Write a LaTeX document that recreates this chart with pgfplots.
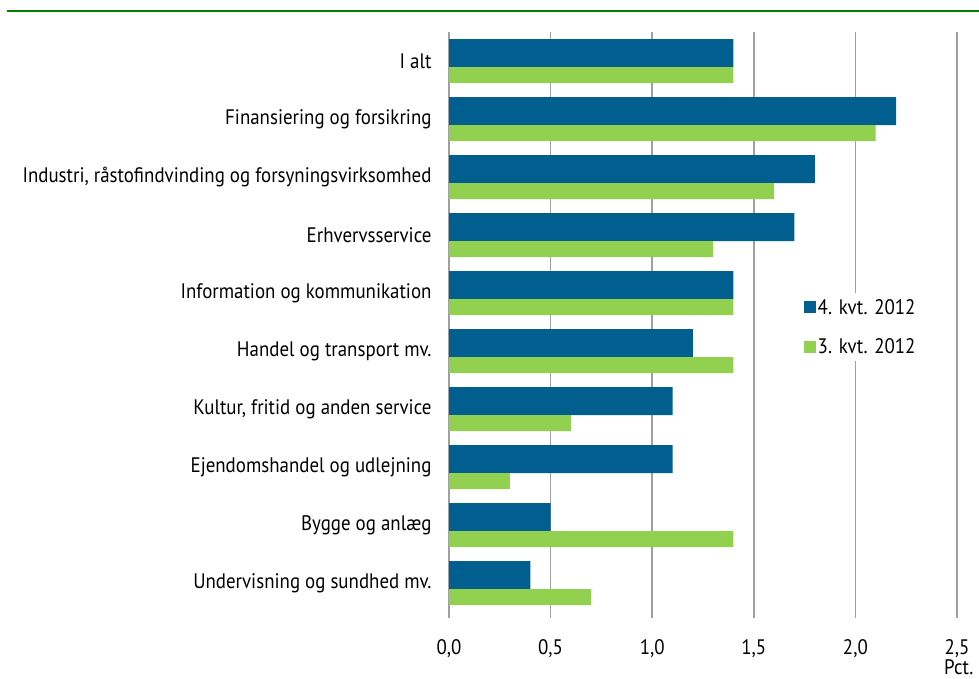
\documentclass[border=0pt]{standalone}
\usepackage{pgfplots}
\pgfplotsset{compat=1.18}
\usepackage{fontspec}
\setmainfont{PT Sans}[FakeStretch=0.9]
\definecolor{cblue}{RGB}{0,95,143}
\definecolor{cgreen}{RGB}{146,208,80}
\definecolor{cgrid}{RGB}{160,160,160}
\definecolor{crule}{RGB}{0,128,0}
\newcommand{\lblfont}{\fontsize{21bp}{24bp}\selectfont}
\begin{document}
\begin{tikzpicture}
\path[use as bounding box] (0bp,0bp) rectangle (979bp,-679bp);
\draw[crule, line width=2bp] (7bp,-11bp) -- (979bp,-11bp);
\begin{axis}[
  at={(449bp,-32bp)}, anchor=north west,
  scale only axis, width=508bp, height=580bp,
  xmin=0, xmax=2.5, ymin=-0.5, ymax=9.5,
  xbar, clip=false,
  axis line style={draw=none},
  xtick={0,0.5,1,1.5,2,2.5},
  xtick pos=bottom, ytick pos=left,
  tick align=outside,
  major tick length=6bp,
  xmajorgrids,
  major grid style={cgrid, line width=1.5bp},
  major tick style={cgrid, line width=1.5bp},
  ytick style={draw=none},
  ytick={0,...,9},
  yticklabels={Undervisning og sundhed mv.,Bygge og anlæg,Ejendomshandel og udlejning,{Kultur, fritid og anden service},Handel og transport mv.,Information og kommunikation,Erhvervsservice,{Industri, råstofindvinding og forsyningsvirksomhed},Finansiering og forsikring,I alt},
  yticklabel style={font=\lblfont, xshift=-8bp},
  xticklabel style={font=\lblfont, yshift=-18bp, /pgf/number format/.cd, fixed, fixed zerofill, precision=1, use comma, assume math mode=true},
  legend style={at={(0.69,0.55)}, anchor=north west, draw=none, fill=white, font=\lblfont, row sep=19bp, inner sep=4bp, legend cell align=left},
  legend image code/.code={\fill[#1] (0bp,-6bp) rectangle (12bp,6bp);},
]
\addplot[fill=cblue, draw=none, bar width=28bp, bar shift=8bp] coordinates {
(1.4,9) (2.2,8) (1.8,7) (1.7,6) (1.4,5) (1.2,4) (1.1,3) (1.1,2) (0.5,1) (0.4,0)};
\addlegendentry{4. kvt. 2012}
\addplot[fill=cgreen, draw=none, bar width=16bp, bar shift=-14bp] coordinates {
(1.4,9) (2.1,8) (1.6,7) (1.3,6) (1.4,5) (1.4,4) (0.6,3) (0.3,2) (1.4,1) (0.7,0)};
\addlegendentry{3. kvt. 2012}
\node[font=\lblfont, anchor=base west, inner sep=0pt] at (axis cs:2.5,-0.5) [xshift=-13bp, yshift=-62bp] {Pct.};
\end{axis}
\end{tikzpicture}
\end{document}
